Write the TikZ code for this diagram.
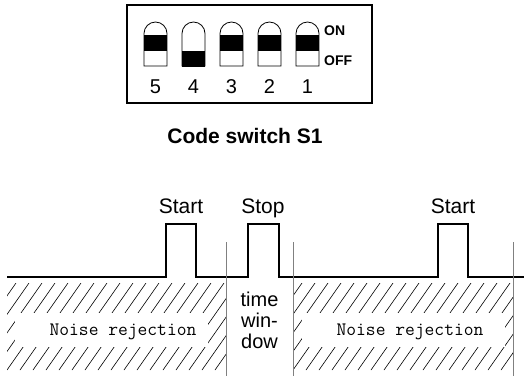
\documentclass[tikz,border=0pt]{standalone}
\usepackage{fontspec}
\setmainfont{Liberation Sans}
\begin{document}
\begin{tikzpicture}[x=1pt,y=-1pt,
    lbl/.style={font=\fontsize{21}{21}\selectfont, inner sep=0pt, anchor=base},
    onoff/.style={font=\bfseries\fontsize{14}{14}\selectfont, inner sep=0pt, anchor=base west},
    noise/.style={font=\ttfamily\fontsize{19}{19}\selectfont, inner sep=0pt, anchor=base},
    border/.style={draw=gray, line width=1pt},
    signal/.style={line width=1.6pt},
    hatch/.style={line width=0.6pt}]
  \useasboundingbox (0,0) rectangle (524,376);
  \draw[line width=1.5pt] (127,5) rectangle (372,103);
  \foreach \n/\y [count=\i from 0] in {5/35,4/51,3/35,2/35,1/35} {
    \fill (144+38*\i,\y) rectangle ++(23,15.5);
    \draw[line width=0.8pt] (144+38*\i,66) -- ++(0,-32.5) arc (180:360:11.5) -- ++(0,32.5) -- cycle;
    \node[lbl, font=\fontsize{20}{20}\selectfont] (d\n) at (155.5+38*\i,93) {\n};
  }
  \draw
    (324,35) node[onoff] (on){ON}
    (324,65) node[onoff] (off){OFF}
    (245,143) node[lbl, font=\bfseries\fontsize{21}{21}\selectfont] (title){Code switch S1};
  \draw[signal] (7,277) -- (166,277) -- (166,224) -- (196,224) -- (196,277)
    -- (248,277) -- (248,224) -- (279,224) -- (279,277)
    -- (438,277) -- (438,224) -- (468,224) -- (468,277) -- (524,277);
  \draw
    (181,213) node[lbl] (start1){Start}
    (263,213) node[lbl] (stop){Stop}
    (453,213) node[lbl] (start2){Start};
  \begin{scope}
    \clip (7,283) rectangle (226,370);
    \foreach \k in {-5,...,18}
      \draw[hatch] (7+13*\k,370) -- ++(61,-87);
  \end{scope}
  \begin{scope}
    \clip (293,283) rectangle (513,370);
    \foreach \k in {-5,...,18}
      \draw[hatch] (293+13*\k,370) -- ++(61,-87);
  \end{scope}
  \fill[white] (15,313) rectangle (208,347);
  \fill[white] (302,313) rectangle (505,347);
  \draw
    (123,335) node[noise] (noise1){Noise rejection}
    (410,335) node[noise] (noise2){Noise rejection}
    (259.5,292) node[lbl, anchor=north, align=center, font=\fontsize{20}{21}\selectfont] (window){time\\win-\\dow};
  \foreach \x in {226,293,513}
    \draw[border] (\x,242) -- (\x,376);
\end{tikzpicture}
\end{document}
